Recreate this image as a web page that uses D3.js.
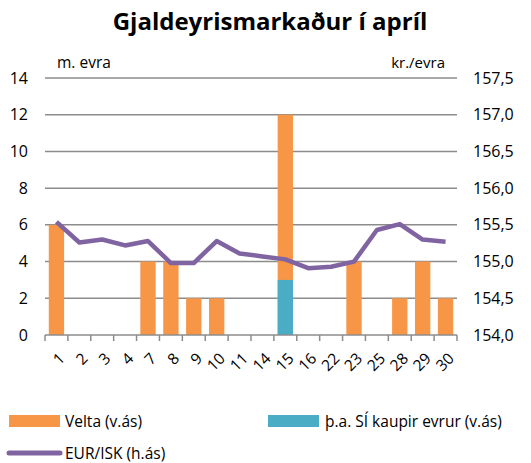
<!DOCTYPE html>
<html>
<head>
<meta charset="utf-8">
<script src="https://cdn.jsdelivr.net/npm/d3@7"></script>
<style>
  body { margin: 0; background: #fff; }
  svg { font-family: "Open Sans", Lato, sans-serif; }
</style>
</head>
<body>
<div id="chart"></div>
<script>
// dagar í apríl
const days = ['1', '2', '3', '4', '7', '8', '9', '10', '11', '14', '15', '16', '22', '23', '25', '28', '29', '30'];
// Velta (v.ás), m. evra
const velta = [6, 0, 0, 0, 4, 4, 2, 2, 0, 0, 12, 0, 0, 4, 0, 2, 4, 2];
// þ.a. SÍ kaupir evrur (v.ás)
const siKaup = [0, 0, 0, 0, 0, 0, 0, 0, 0, 0, 3, 0, 0, 0, 0, 0, 0, 0];
// EUR/ISK (h.ás)
const eurIsk = [155.54, 155.26, 155.30, 155.22, 155.28, 154.98, 154.98, 155.28, 155.11, 155.07,
  155.03, 154.91, 154.93, 155.00, 155.43, 155.51, 155.30, 155.27];
const leftTicks = [0, 2, 4, 6, 8, 10, 12, 14];
const rightTicks = [154.0, 154.5, 155.0, 155.5, 156.0, 156.5, 157.0, 157.5];

const W = 531, H = 463;
const margin = { top: 78, right: 74, bottom: 128, left: 45 };
const width = W - margin.left - margin.right;
const height = H - margin.top - margin.bottom;

const colOrange = '#f79646', colTeal = '#4bacc6', colPurple = '#8064a2', colGrid = '#8c8c8c';

const svg = d3.select('#chart').append('svg')
  .attr('width', W)
  .attr('height', H);

svg.append('text')
  .attr('x', 270)
  .attr('y', 30)
  .attr('text-anchor', 'middle')
  .attr('font-size', 24)
  .attr('font-weight', 'bold')
  .text('Gjaldeyrismarkaður í apríl');

const g = svg.append('g')
  .attr('transform', 'translate(' + margin.left + ',' + margin.top + ')');

const x = d3.scaleBand().domain(days).range([0, width]).paddingInner(0.33).paddingOuter(0.165);
const xc = d3.scaleBand().domain(days).range([0, width]);
const y = d3.scaleLinear().domain([0, 14]).range([height, 0]);
const y2 = d3.scaleLinear().domain([154, 157.5]).range([height, 0]);

// gridlines
g.selectAll('.grid')
  .data(leftTicks.slice(1))
  .enter().append('line')
  .attr('x1', 0).attr('x2', width)
  .attr('y1', d => y(d)).attr('y2', d => y(d))
  .attr('stroke', colGrid)
  .attr('stroke-width', 1.5);

// bars
g.selectAll('.bar')
  .data(days.map((d, i) => ({ day: d, v: velta[i] })).filter(d => d.v > 0))
  .enter().append('rect')
  .attr('x', d => x(d.day))
  .attr('width', x.bandwidth())
  .attr('y', d => y(d.v))
  .attr('height', d => height - y(d.v))
  .attr('fill', colOrange);

g.selectAll('.bar2')
  .data(days.map((d, i) => ({ day: d, v: siKaup[i] })).filter(d => d.v > 0))
  .enter().append('rect')
  .attr('x', d => x(d.day))
  .attr('width', x.bandwidth())
  .attr('y', d => y(d.v))
  .attr('height', d => height - y(d.v))
  .attr('fill', colTeal);

// x axis
const xAxis = g.append('g')
  .attr('transform', 'translate(0,' + height + ')');
xAxis.append('line')
  .attr('x1', 0).attr('x2', width)
  .attr('stroke', colGrid).attr('stroke-width', 1.5);
xAxis.selectAll('.tk')
  .data(days.concat(['end']))
  .enter().append('line')
  .attr('x1', (d, i) => i * xc.step()).attr('x2', (d, i) => i * xc.step())
  .attr('y1', 0).attr('y2', 6)
  .attr('stroke', colGrid).attr('stroke-width', 1.5);
xAxis.selectAll('.lbl')
  .data(days)
  .enter().append('text')
  .attr('transform', d => 'translate(' + (xc(d) + xc.bandwidth() / 2 + 5) + ',20) rotate(-45)')
  .attr('text-anchor', 'end')
  .attr('dy', '0.4em')
  .attr('font-size', 15.5)
  .text(d => d);

// left axis labels
g.selectAll('.ly')
  .data(leftTicks)
  .enter().append('text')
  .attr('x', -17)
  .attr('y', d => y(d))
  .attr('dy', '0.35em')
  .attr('text-anchor', 'end')
  .attr('font-size', 16)
  .text(d => d);

// right axis labels
g.selectAll('.ry')
  .data(rightTicks)
  .enter().append('text')
  .attr('x', width + 16)
  .attr('y', d => y2(d))
  .attr('dy', '0.35em')
  .attr('font-size', 16)
  .text(d => d.toFixed(1).replace('.', ','));

g.append('text').attr('x', 12).attr('y', -10).attr('font-size', 15.5).text('m. evra');
g.append('text').attr('x', width - 12).attr('y', -10).attr('text-anchor', 'end').attr('font-size', 15).text('kr./evra');

// EUR/ISK line
const line = d3.line()
  .x((d, i) => xc(days[i]) + xc.bandwidth() / 2)
  .y(d => y2(d));
g.append('path')
  .datum(eurIsk)
  .attr('fill', 'none')
  .attr('stroke', colPurple)
  .attr('stroke-width', 4.5)
  .attr('stroke-linejoin', 'round')
  .attr('d', line);

// legend
const leg = svg.append('g');
leg.append('rect').attr('x', 9).attr('y', 415).attr('width', 51).attr('height', 12).attr('fill', colOrange);
leg.append('text').attr('x', 65).attr('y', 427).attr('font-size', 15.5).text('Velta (v.ás)');
leg.append('rect').attr('x', 268).attr('y', 415).attr('width', 51).attr('height', 12).attr('fill', colTeal);
leg.append('text').attr('x', 325).attr('y', 427).attr('font-size', 15.5).text('þ.a. SÍ kaupir evrur (v.ás)');
leg.append('line').attr('x1', 9).attr('x2', 60).attr('y1', 453).attr('y2', 453)
  .attr('stroke', colPurple).attr('stroke-width', 5).attr('stroke-linecap', 'round');
leg.append('text').attr('x', 65).attr('y', 459).attr('font-size', 15.5).text('EUR/ISK (h.ás)');
</script>
</body>
</html>
